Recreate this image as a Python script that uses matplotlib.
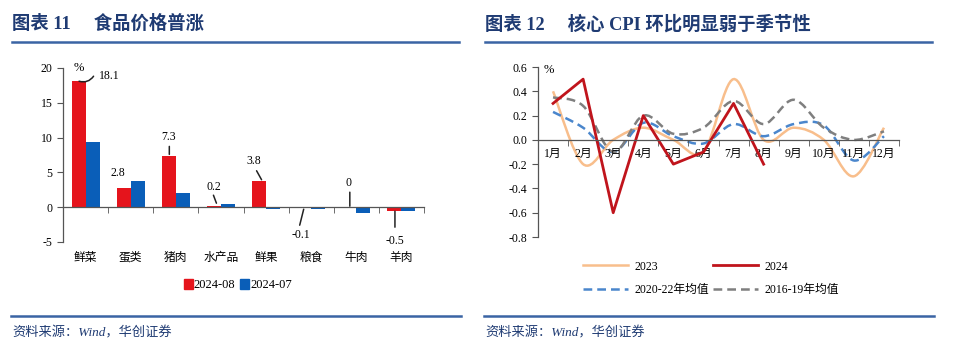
import numpy as np
import matplotlib.pyplot as plt
from matplotlib.lines import Line2D
from matplotlib.path import Path
from matplotlib.patches import PathPatch, Patch
from matplotlib.transforms import offset_copy

plt.rcParams['font.family'] = ['Liberation Serif', 'Noto Sans CJK SC']
plt.rcParams['axes.unicode_minus'] = False

# left chart: food price yoy
foods = ['鲜菜', '蛋类', '猪肉', '水产品', '鲜果', '粮食', '牛肉', '羊肉']
aug_2024 = [18.1, 2.8, 7.3, 0.2, 3.8, -0.1, 0.0, -0.5]
jul_2024 = [9.3, 3.8, 2.0, 0.5, -0.3, -0.3, -0.8, -0.5]

# right chart: core CPI mom
months = ['1月', '2月', '3月', '4月', '5月', '6月', '7月', '8月', '9月', '10月', '11月', '12月']
core_2023 = [0.4, -0.2, 0.0, 0.1, 0.0, -0.1, 0.5, 0.0, 0.1, 0.0, -0.3, 0.1]
core_2024 = [0.3, 0.5, -0.6, 0.2, -0.2, -0.1, 0.3, -0.2]
avg_2020_22 = [0.23, 0.1, -0.1, 0.14, 0.03, -0.03, 0.13, 0.03, 0.13, 0.12, -0.17, 0.03]
avg_2016_19 = [0.35, 0.28, -0.1, 0.2, 0.05, 0.1, 0.32, 0.13, 0.33, 0.1, 0.0, 0.07]
right_yticks = [-0.8, -0.6, -0.4, -0.2, 0.0, 0.2, 0.4, 0.6]

RED = '#E5141C'
BLUE = '#0A5EB8'
NAVY = '#1F3B73'
RULE = '#3A64A4'
AXC = '#555555'
W, H = 960, 353


def fx(px):
    return px / W


def fy(py):
    return 1 - py / H


def smooth_path(xs, ys):
    # Excel-like smoothed line: cubic bezier through every point
    pts = np.column_stack([xs, ys]).astype(float)
    n = len(pts)
    verts = [pts[0]]
    codes = [Path.MOVETO]
    for i in range(n - 1):
        p0 = pts[max(i - 1, 0)]
        p1 = pts[i]
        p2 = pts[i + 1]
        p3 = pts[min(i + 2, n - 1)]
        c1 = p1 + (p2 - p0) / 6
        c2 = p2 - (p3 - p1) / 6
        verts += [c1, c2, p2]
        codes += [Path.CURVE4] * 3
    return Path(verts, codes)


fig = plt.figure(figsize=(9.6, 3.53), dpi=100)

# headers and footers
for x0, x1, title in [(12, 459, '图表 11     食品价格普涨'),
                      (485, 932, '图表 12     核心 CPI 环比明显弱于季节性')]:
    fig.text(fx(x0), fy(24), title, fontsize=13.2, fontweight='bold',
             color=NAVY, va='center', ha='left')
    fig.add_artist(Line2D([fx(x0), fx(x1)], [fy(42)] * 2, color=RULE, lw=1.8))
    fig.add_artist(Line2D([fx(x0 - 1), fx(x1 + 2)], [fy(316)] * 2, color=RULE, lw=1.8))
    fig.text(fx(x0), fy(333), '资料来源：Wind，华创证券', fontsize=9.5,
             style='italic', color=NAVY, va='center', ha='left')

# ---------- left: bars ----------
ax = fig.add_axes([fx(63), fy(242), fx(424) - fx(63), fy(68) - fy(242)])
x = np.arange(len(foods))
bw = 0.31
ax.bar(x - bw / 2, aug_2024, bw, color=RED, label='2024-08')
ax.bar(x + bw / 2, jul_2024, bw, color=BLUE, label='2024-07')
ax.set_xlim(-0.5, len(foods) - 0.5)
ax.set_ylim(-5, 20)
ax.set_yticks(range(-5, 21, 5))
for s in ['top', 'right']:
    ax.spines[s].set_visible(False)
ax.spines['bottom'].set_position(('data', 0))
for s in ['left', 'bottom']:
    ax.spines[s].set_color(AXC)
    ax.spines[s].set_linewidth(0.9)
ax.set_xticks(x)
ax.set_xticklabels(foods, fontsize=8.5)
ax.set_xticks(np.arange(-0.5, len(foods), 1), minor=True)
ax.tick_params(axis='x', which='major', length=0, pad=32)
ax.tick_params(axis='x', which='minor', length=4, direction='out', color=AXC)
ax.tick_params(axis='y', length=4, direction='out', color=AXC, labelsize=8.5)
ax.text(0.045, 1.0, '%', transform=ax.transAxes, fontsize=9, ha='center', va='center')

# data labels (offsets in pixels from top of red bar)
lab_off = [(30.5, 5), (-5.5, 15), (-0.5, 19), (-0.5, 18.6),
           (-5.5, 20), (-3.5, -27.3), (-0.5, 24), (0.5, -30.5)]
lead = [((0.5, 0), (15, 5)), None, ((0.5, 2), (0.5, 10)), ((2.5, 2.6), (-0.5, 10.6)),
        ((2.5, 1), (-2.5, 10)), ((-0.5, -1.3), (-4.5, -17.3)), ((0.5, 1), (0.5, 15)),
        ((0.5, -0.5), (0.5, -16.5))]
for i, v in enumerate(aug_2024):
    xi = i - bw / 2
    txt = f'{v:g}'
    dx, dy = lab_off[i]
    ax.annotate(txt, (xi, v), xytext=(dx, dy), textcoords='offset pixels',
                ha='center', va='center', fontsize=8.5)
    if lead[i] is not None:
        (sx, sy), (ex, ey) = lead[i]
        cs = 'arc3,rad=-0.35' if i == 0 else 'arc3'
        ax.annotate('', xy=(xi, v), xycoords=offset_copy(ax.transData, fig, x=sx, y=sy, units='dots'),
                    xytext=(xi, v), textcoords=offset_copy(ax.transData, fig, x=ex, y=ey, units='dots'),
                    arrowprops=dict(arrowstyle='-', color='#222222', lw=1.1,
                                    shrinkA=0, shrinkB=0, connectionstyle=cs))

ax.legend(handles=[Patch(color=RED, label='2024-08'), Patch(color=BLUE, label='2024-07')],
          loc='center', bbox_to_anchor=(fx(238), fy(285)), bbox_transform=fig.transFigure,
          ncol=2, frameon=False, fontsize=9, handlelength=0.7, handleheight=0.8,
          handletextpad=0.1, columnspacing=0.4)

# ---------- right: lines ----------
ax2 = fig.add_axes([fx(538), fy(237), fx(899) - fx(538), fy(67) - fy(237)])
m = np.arange(len(months))
ax2.set_xlim(-0.5, len(months) - 0.5)
ax2.set_ylim(-0.8, 0.6)
ax2.set_yticks(right_yticks)
ax2.set_yticklabels([f'{t:.1f}' for t in right_yticks])

series = [
    (core_2023, '2023', dict(color='#F8BE8C', lw=1.8, ls='-')),
    (avg_2020_22, '2020-22年均值', dict(color='#4A86CC', lw=1.8, ls=(0, (3.5, 2)))),
    (avg_2016_19, '2016-19年均值', dict(color='#7F7F7F', lw=1.8, ls=(0, (3.5, 2)))),
]
handles = {}
for vals, name, st in series:
    pp = PathPatch(smooth_path(m[:len(vals)], vals), fill=False, color=st['color'],
                   lw=st['lw'], ls=st['ls'], capstyle='butt')
    ax2.add_patch(pp)
    handles[name] = Line2D([], [], **st)
l24, = ax2.plot(m[:len(core_2024)], core_2024, color='#C0141C', lw=2.0, label='2024')
handles['2024'] = l24

for s in ['top', 'right']:
    ax2.spines[s].set_visible(False)
ax2.spines['bottom'].set_position(('data', 0))
for s in ['left', 'bottom']:
    ax2.spines[s].set_color(AXC)
    ax2.spines[s].set_linewidth(0.9)
ax2.set_xticks(m)
ax2.set_xticklabels(months, fontsize=8.5)
ax2.set_xticks(np.arange(-0.5, len(months), 1), minor=True)
ax2.tick_params(axis='x', which='major', length=0, pad=6)
ax2.tick_params(axis='x', which='minor', length=4, direction='out', color=AXC)
ax2.tick_params(axis='y', length=4, direction='out', color=AXC, labelsize=8.5)
ax2.text(0.03, 0.985, '%', transform=ax2.transAxes, fontsize=9, ha='center', va='center')

order = ['2023', '2020-22年均值', '2024', '2016-19年均值']
ax2.legend([handles[k] for k in order], order, loc='center',
           bbox_to_anchor=(fx(711), fy(278.5)), bbox_transform=fig.transFigure,
           ncol=2, frameon=False, fontsize=8.5, handlelength=3.8, handletextpad=0.5,
           labelspacing=1.0, columnspacing=0.4)

fig.savefig('out.png', dpi=100)
